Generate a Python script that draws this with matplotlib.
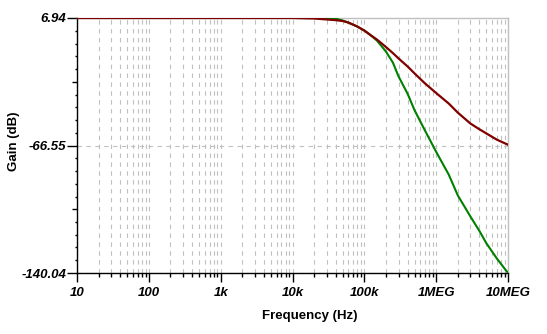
import matplotlib
matplotlib.use("Agg")
import matplotlib.pyplot as plt
from matplotlib.ticker import FixedLocator, NullFormatter

frecuencias = [10, 100, 1e3, 1e4, 2e4, 3e4, 4e4, 5e4, 6e4, 8e4, 1e5, 1.2e5, 1.5e5,
               2e5, 2.5e5, 3e5, 4e5, 5e5, 7e5, 1e6, 1.5e6, 2e6, 3e6, 4e6, 5e6, 7e6, 1e7]
ganancia_roja = [6.94, 6.94, 6.94, 6.94, 6.65, 6.1, 5.7, 5.2, 4.3, 2.0, -0.3, -2.7, -5.5,
                 -9.8, -13.3, -16.4, -21.0, -25.0, -30.8, -36.3, -42.4, -47.6, -53.9,
                 -57.2, -59.6, -63.2, -66.1]
ganancia_verde = [6.94, 6.94, 6.94, 6.94, 6.94, 6.9, 6.5, 5.5, 4.3, 2.0, -0.3, -2.7, -6.1,
                  -12.4, -18.8, -26.8, -36.7, -46.2, -58.0, -70.2, -83.4, -95.3, -107.5,
                  -115.8, -122.9, -131.7, -140.04]

ticks_x = [10, 100, 1e3, 1e4, 1e5, 1e6, 1e7]
etiquetas_x = ["10", "100", "1k", "10k", "100k", "1MEG", "10MEG"]
ticks_y = [6.94, -66.55, -140.04]
etiquetas_y = ["6.94", "-66.55", "-140.04"]

fuente = "Liberation Sans"
gris = "#c0c0c0"

fig = plt.figure(figsize=(5.47, 3.34), dpi=100)
ax = fig.add_axes([77 / 547, 61 / 334, 431 / 547, 255 / 334])

ax.semilogx(frecuencias, ganancia_verde, color="#008000", lw=1.5, zorder=3)
ax.semilogx(frecuencias, ganancia_roja, color="#800000", lw=1.6, zorder=4)

ax.set_xlim(10, 1e7)
ax.set_ylim(-140.04, 6.94)

# Eje X: decadas con subdivisiones 2..9
ax.xaxis.set_major_locator(FixedLocator(ticks_x))
menores_x = [d * k for d in ticks_x[:-1] for k in range(2, 10)]
ax.xaxis.set_minor_locator(FixedLocator(menores_x))
ax.xaxis.set_minor_formatter(NullFormatter())
ax.set_xticklabels(etiquetas_x, fontfamily=fuente, fontweight="bold",
                   fontstyle="italic", fontsize=9.5)

# Eje Y: tres marcas principales y 9 menores entre cada par
ax.yaxis.set_major_locator(FixedLocator(ticks_y))
paso = (ticks_y[0] - ticks_y[1]) / 10
indices = [i for i in range(1, 20) if i != 10]
menores_y = [ticks_y[0] - paso * i for i in indices]
ax.yaxis.set_minor_locator(FixedLocator(menores_y))
ax.set_yticklabels(etiquetas_y, fontfamily=fuente, fontweight="bold",
                   fontstyle="italic", fontsize=9.5)

ax.tick_params(axis="x", which="major", direction="out", length=6.5, width=1, pad=3.5)
ax.tick_params(axis="x", which="minor", direction="out", length=3, width=1)
ax.tick_params(axis="y", which="major", direction="out", length=7, width=1, pad=0.5)
ax.tick_params(axis="y", which="minor", direction="out", length=1.8, width=1)

# la marca menor del centro de cada tramo es algo mas larga
for i, tick in zip(indices, ax.yaxis.get_minor_ticks()):
    if i in (5, 15):
        tick.tick1line.set_markersize(3.5)

ax.grid(which="both", axis="x", color=gris, ls=(0, (4, 4)), lw=0.8)
ax.grid(which="major", axis="y", color=gris, ls=(0, (4, 4)), lw=0.8)

for lado in ["left", "bottom"]:
    ax.spines[lado].set_color("black")
    ax.spines[lado].set_linewidth(1)
for lado in ["top", "right"]:
    ax.spines[lado].set_color(gris)
    ax.spines[lado].set_linewidth(1)

ax.set_xlabel("Frequency (Hz)", fontfamily=fuente, fontweight="bold", fontsize=9.5)
ax.xaxis.set_label_coords(0.54, -0.145)
ax.set_ylabel("Gain (dB)", fontfamily=fuente, fontweight="bold", fontsize=9.5)
ax.yaxis.set_label_coords(-0.133, 0.518)

fig.savefig("out.png", dpi=100)
